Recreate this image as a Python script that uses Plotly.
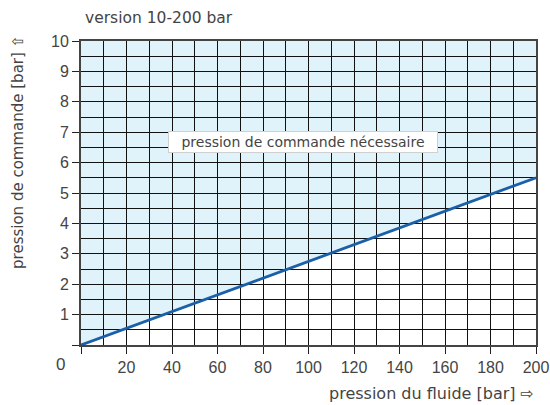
import plotly.graph_objects as go

fluid_pressure = [0, 200]          # bar
command_pressure = [0, 5.5]        # bar
x_ticks = [0, 20, 40, 60, 80, 100, 120, 140, 160, 180, 200]
y_ticks = [0, 1, 2, 3, 4, 5, 6, 7, 8, 9, 10]
x_max, y_max = 200, 10

font_family = "Liberation Sans Narrow, Arial Narrow, Liberation Sans, sans-serif"
txt_family = "DejaVu Sans, sans-serif"
grey = "#444444"

fig = go.Figure()
fig.add_trace(go.Scatter(x=fluid_pressure, y=command_pressure, mode="lines",
                         line=dict(color="#1a5fa8", width=2.8), hoverinfo="skip",
                         showlegend=False))

path = "M {} {} L {} {} L {} {} L {} {} Z".format(
    fluid_pressure[0], command_pressure[0], fluid_pressure[1], command_pressure[1],
    fluid_pressure[1], y_max, fluid_pressure[0], y_max)
fig.add_shape(type="path", path=path, xref="x", yref="y", layer="below",
              fillcolor="#e1f3fa", line=dict(width=0))

fig.add_annotation(x=97.4, y=6.68, xref="x", yref="y", xanchor="center", yanchor="middle",
                   text="pression de commande nécessaire", showarrow=False,
                   width=266, height=18, align="center",
                   font=dict(family=txt_family, size=14, color=grey),
                   bgcolor="white", bordercolor="#d0d0d0", borderwidth=1, borderpad=1)
fig.add_annotation(x=0, y=0, xref="paper", yref="paper", xanchor="center", yanchor="middle",
                   xshift=-21, yshift=-19, text="0", showarrow=False,
                   font=dict(family=font_family, size=17, color=grey))
fig.add_annotation(x=0, y=1, xref="paper", yref="paper", xanchor="left", yanchor="middle",
                   xshift=2, yshift=23, text="version 10-200 bar", showarrow=False,
                   font=dict(family=txt_family, size=15.5, color=grey))
fig.add_annotation(x=1, y=0, xref="paper", yref="paper", xanchor="right", yanchor="middle",
                   yshift=-48, text="pression du fluide [bar] ⇨", showarrow=False,
                   font=dict(family=txt_family, size=16, color=grey))
fig.add_annotation(x=0, y=0.635, xref="paper", yref="paper", xanchor="center", yanchor="middle",
                   xshift=-63, text="pression de commande [bar] ⇧", textangle=-90,
                   showarrow=False, font=dict(family=txt_family, size=15, color=grey))

fig.update_xaxes(range=[0, x_max], tickvals=x_ticks,
                 ticktext=[""] + [str(v) for v in x_ticks[1:]],
                 ticks="outside", ticklen=7,
                 tickcolor="#222", tickwidth=1.3, automargin=False,
                 tickfont=dict(family=font_family, size=16, color=grey),
                 showgrid=True, gridcolor="#111", gridwidth=1,
                 minor=dict(showgrid=True, gridcolor="#111", gridwidth=1, tickvals=list(range(10, 200, 20))),
                 showline=True, linecolor="#444", linewidth=2, mirror=True, zeroline=False,
                 fixedrange=True)
fig.update_yaxes(range=[0, y_max], tickvals=y_ticks,
                 ticktext=[""] + [str(v) for v in y_ticks[1:]],
                 ticks="outside", ticklen=7,
                 tickcolor="#222", tickwidth=1.3, automargin=False,
                 tickfont=dict(family=font_family, size=16, color=grey),
                 showgrid=True, gridcolor="#111", gridwidth=1,
                 minor=dict(showgrid=True, gridcolor="#111", gridwidth=1, tickvals=[v + 0.5 for v in y_ticks[:-1]]),
                 showline=True, linecolor="#444", linewidth=2, mirror=True, zeroline=False,
                 fixedrange=True)

fig.update_layout(width=550, height=405, margin=dict(l=81, r=14, t=41, b=60, autoexpand=False),
                  paper_bgcolor="white", plot_bgcolor="white")

fig.write_html("out.html", config={"displayModeBar": False},
               post_script="document.body.style.margin='0';document.body.style.padding='0';")
